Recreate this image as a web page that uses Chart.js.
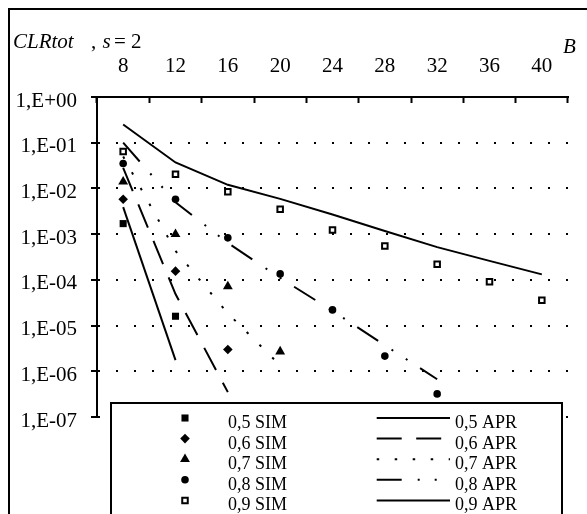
<!DOCTYPE html>
<html><head><meta charset="utf-8">
<script src="https://cdn.jsdelivr.net/npm/chart.js@4/dist/chart.umd.min.js"></script>
<style>html,body{margin:0;padding:0;background:#fff;} canvas{display:block;}</style>
</head><body>
<canvas id="c" width="587" height="514"></canvas>
<script>
// ---- data ----
const categories = ['8', '12', '16', '20', '24', '28', '32', '36', '40'];
const yTickValues = [1, 1e-1, 1e-2, 1e-3, 1e-4, 1e-5, 1e-6, 1e-7];
const sim05 = [1.7e-3, 1.6e-5];
const sim06 = [5.8e-3, 1.55e-4, 3.0e-6];
const sim07 = [1.4e-2, 1.0e-3, 7.2e-5, 2.7e-6];
const sim08 = [3.5e-2, 5.8e-3, 8.3e-4, 1.35e-4, 2.2e-5, 2.15e-6, 3.2e-7];
const sim09 = [6.4e-2, 2.05e-2, 8.5e-3, 3.5e-3, 1.23e-3, 5.5e-4, 2.2e-4, 9.1e-5, 3.6e-5];
const apr05 = [3.9e-3, 1.75e-6];
const apr06 = [2.8e-2, 4.9e-5, 3.5e-7];
const apr07 = [5.0e-2, 4.3e-4, 1.85e-5, 1.35e-6];
const apr08 = [1.0e-1, 5.0e-3, 6.4e-4, 1.1e-4, 2.1e-5, 3.7e-6, 6.7e-7];
const apr09 = [2.5e-1, 3.7e-2, 1.2e-2, 5.9e-3, 2.7e-3, 1.17e-3, 5.2e-4, 2.6e-4, 1.32e-4];
const simLabels = ['0,5 SIM', '0,6 SIM', '0,7 SIM', '0,8 SIM', '0,9 SIM'];
const aprLabels = ['0,5 APR', '0,6 APR', '0,7 APR', '0,8 APR', '0,9 APR'];

const FONT = "'Liberation Serif', 'Times New Roman', serif";

function simDs(label, data, style, radius, fill, bw) {
  return {label, data, showLine: false, pointStyle: style, pointRadius: radius, pointHoverRadius: radius,
    pointBackgroundColor: fill, pointBorderColor: '#000', pointBorderWidth: bw,
    borderColor: '#000', backgroundColor: fill};
}
function aprDs(label, data, dash) {
  return {label, data, borderColor: '#000', borderWidth: 2, borderDash: dash, pointRadius: 0,
    pointHoverRadius: 0, tension: 0, fill: false, backgroundColor: '#000'};
}

const simSets = [
  simDs(simLabels[0], sim05, 'rect', 5, '#000', 0),
  simDs(simLabels[1], sim06, 'rectRot', 4.8, '#000', 0),
  simDs(simLabels[2], sim07, 'triangle', 5.7, '#000', 0),
  simDs(simLabels[3], sim08, 'circle', 3.8, '#000', 0),
  simDs(simLabels[4], sim09, 'rect', 3.9, '#fff', 2)
];
const aprSets = [
  aprDs(aprLabels[0], apr05, []),
  aprDs(aprLabels[1], apr06, [25, 14.5]),
  aprDs(aprLabels[2], apr07, [2.5, 15.5]),
  aprDs(aprLabels[3], apr08, [25, 16, 2, 15, 2, 15]),
  aprDs(aprLabels[4], apr09, [])
];

function fmtTick(v) {
  const e = Math.round(Math.log10(v));
  return '1,E' + (e >= 0 ? '+' : '-') + String(Math.abs(e)).padStart(2, '0');
}

const decor = {
  id: 'decor',
  afterDraw(chart) {
    const ctx = chart.ctx;
    ctx.save();
    // outer frame (top and left)
    ctx.strokeStyle = '#000';
    ctx.lineWidth = 2;
    ctx.setLineDash([]);
    ctx.beginPath();
    ctx.moveTo(9, 514); ctx.lineTo(9, 9); ctx.lineTo(587, 9);
    ctx.stroke();

    // title
    ctx.fillStyle = '#000';
    ctx.textBaseline = 'alphabetic';
    ctx.textAlign = 'left';
    ctx.font = 'italic 21px ' + FONT;
    ctx.fillText('CLRtot', 13, 48);
    ctx.fillText('s', 102.5, 48);
    ctx.fillText('B', 563, 53);
    ctx.font = '21px ' + FONT;
    ctx.fillText(',', 91, 48);
    ctx.fillText('=', 114, 48);
    ctx.fillText('2', 131, 48);

    // legend box
    ctx.fillStyle = '#fff';
    ctx.fillRect(111, 403, 451, 120);
    ctx.strokeStyle = '#000';
    ctx.lineWidth = 2;
    ctx.strokeRect(111, 403, 451, 130);

    ctx.font = '18px ' + FONT;
    ctx.fillStyle = '#000';
    for (let i = 0; i < 5; i++) {
      const base = 428 + i * 20.6;
      const my = base - 10;
      const s = simSets[i];
      ctx.save();
      ctx.fillStyle = s.pointBackgroundColor;
      ctx.strokeStyle = s.pointBorderColor;
      ctx.lineWidth = s.pointBorderWidth;
      ctx.setLineDash([]);
      Chart.helpers.drawPoint(ctx, {pointStyle: s.pointStyle, radius: s.pointRadius, rotation: 0, borderWidth: s.pointBorderWidth}, 185, my);
      ctx.restore();
      ctx.fillStyle = '#000';
      ctx.fillText(s.label, 228, base);

      const a = aprSets[i];
      ctx.save();
      ctx.strokeStyle = '#000';
      ctx.lineWidth = a.borderWidth;
      ctx.setLineDash(a.borderDash);
      ctx.beginPath();
      ctx.moveTo(376.7, my); ctx.lineTo(450, my);
      ctx.stroke();
      ctx.restore();
      ctx.fillText(a.label, 455, base);
    }
    ctx.restore();
  }
};

new Chart(document.getElementById('c'), {
  type: 'line',
  data: {labels: categories, datasets: [...simSets, ...aprSets]},
  options: {
    responsive: false,
    animation: false,
    events: [],
    layout: {padding: {top: 0, left: 0, right: 19, bottom: 97}},
    plugins: {legend: {display: false}, title: {display: false}, tooltip: {enabled: false}},
    scales: {
      x: {
        type: 'category',
        position: 'top',
        offset: true,
        afterFit(s) { s.height = 97; },
        grid: {offset: true, drawOnChartArea: false, drawTicks: true, tickLength: -6, tickWidth: 2, tickColor: '#000', color: '#000'},
        border: {display: true, color: '#000', width: 2},
        ticks: {color: '#000', font: {family: FONT, size: 21}, padding: 23.5, maxRotation: 0, autoSkip: false}
      },
      y: {
        type: 'logarithmic',
        position: 'left',
        min: 1e-7,
        max: 1,
        afterFit(s) { s.width = 97; },
        afterBuildTicks(s) { s.ticks = yTickValues.map(v => ({value: v})); },
        grid: {
          drawOnChartArea: true, drawTicks: true, tickLength: 6, tickWidth: 2, tickColor: '#000', lineWidth: 2,
          color: (c) => (c.tick && c.tick.value === 1) ? 'rgba(0,0,0,0)' : '#000'
        },
        border: {display: true, color: '#000', width: 2, dash: [2, 16]},
        ticks: {color: '#000', font: {family: FONT, size: 21}, padding: 14, labelOffset: 4, autoSkip: false,
          callback: (v) => fmtTick(v)}
      }
    }
  },
  plugins: [decor]
});
</script>
</body></html>
